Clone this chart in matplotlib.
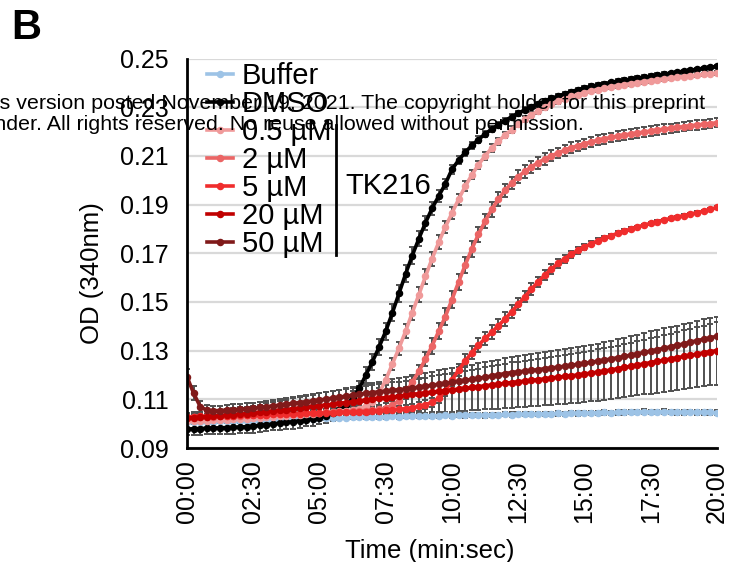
import numpy as np
import matplotlib
matplotlib.use("Agg")
from matplotlib import pyplot as plt

plt.rcParams["font.family"] = ["Liberation Sans", "DejaVu Sans"]

# sampling every 15 s, 0-20 min
time_min = np.arange(81) * 0.25

tick_pos = [0, 2.5, 5, 7.5, 10, 12.5, 15, 17.5, 20]
tick_labels = ["00:00", "02:30", "05:00", "07:30", "10:00", "12:30", "15:00", "17:30", "20:00"]

labels = ["Buffer", "DMSO", "0.5 µM", "2 µM", "5 µM", "20 µM", "50 µM"]
colors = ["#9DC3E6", "#000000", "#F09A9A", "#EB6565", "#F02D2D", "#C00000", "#801A1A"]

buffer = [
    0.1005, 0.1006, 0.1007, 0.1008, 0.1008, 0.1009, 0.1010, 0.1011, 0.1011, 0.1012,
    0.1013, 0.1014, 0.1015, 0.1016, 0.1016, 0.1017, 0.1018, 0.1019, 0.1020, 0.1021,
    0.1022, 0.1023, 0.1024, 0.1024, 0.1025, 0.1026, 0.1026, 0.1027, 0.1028, 0.1027,
    0.1029, 0.1030, 0.1029, 0.1031, 0.1030, 0.1032, 0.1031, 0.1033, 0.1032, 0.1034,
    0.1033, 0.1035, 0.1034, 0.1036, 0.1035, 0.1034, 0.1037, 0.1036, 0.1038, 0.1037,
    0.1039, 0.1038, 0.1040, 0.1039, 0.1041, 0.1040, 0.1042, 0.1041, 0.1043, 0.1042,
    0.1043, 0.1045, 0.1044, 0.1046, 0.1045, 0.1047, 0.1046, 0.1048, 0.1047, 0.1049,
    0.1048, 0.1047, 0.1049, 0.1048, 0.1046, 0.1047, 0.1048, 0.1046, 0.1047, 0.1046,
    0.1045]
dmso = [
    0.0978, 0.0979, 0.0980, 0.0981, 0.0982, 0.0983, 0.0984, 0.0985, 0.0986, 0.0988,
    0.0990, 0.0993, 0.0996, 0.0999, 0.1002, 0.1005, 0.1008, 0.1012, 0.1016, 0.1020,
    0.1025, 0.1032, 0.1042, 0.1056, 0.1076, 0.1105, 0.1145, 0.1200, 0.1255, 0.1315,
    0.1380, 0.1455, 0.1535, 0.1615, 0.1690, 0.1760, 0.1825, 0.1885, 0.1935, 0.1985,
    0.2045, 0.2082, 0.2115, 0.2143, 0.2167, 0.2190, 0.2210, 0.2228, 0.2245, 0.2260,
    0.2275, 0.2289, 0.2302, 0.2314, 0.2325, 0.2336, 0.2346, 0.2355, 0.2364, 0.2372,
    0.2380, 0.2386, 0.2392, 0.2397, 0.2402, 0.2407, 0.2411, 0.2416, 0.2420, 0.2424,
    0.2428, 0.2432, 0.2436, 0.2440, 0.2444, 0.2448, 0.2452, 0.2456, 0.2460, 0.2464,
    0.2468]
tk_05 = [
    0.1010, 0.1011, 0.1012, 0.1013, 0.1014, 0.1016, 0.1017, 0.1018, 0.1020, 0.1021,
    0.1023, 0.1025, 0.1026, 0.1028, 0.1030, 0.1032, 0.1034, 0.1036, 0.1038, 0.1041,
    0.1044, 0.1046, 0.1048, 0.1051, 0.1054, 0.1057, 0.1062, 0.1072, 0.1090, 0.1125,
    0.1180, 0.1245, 0.1310, 0.1380, 0.1455, 0.1530, 0.1605, 0.1678, 0.1745, 0.1808,
    0.1865, 0.1922, 0.1975, 0.2022, 0.2064, 0.2100, 0.2132, 0.2160, 0.2185, 0.2208,
    0.2230, 0.2250, 0.2268, 0.2285, 0.2300, 0.2313, 0.2325, 0.2335, 0.2344, 0.2352,
    0.2359, 0.2366, 0.2372, 0.2378, 0.2383, 0.2388, 0.2392, 0.2396, 0.2400, 0.2404,
    0.2408, 0.2412, 0.2415, 0.2419, 0.2422, 0.2426, 0.2429, 0.2432, 0.2435, 0.2438,
    0.2441]
tk_2 = [
    0.1025, 0.1026, 0.1027, 0.1028, 0.1029, 0.1030, 0.1031, 0.1032, 0.1033, 0.1034,
    0.1035, 0.1036, 0.1037, 0.1038, 0.1039, 0.1040, 0.1041, 0.1042, 0.1043, 0.1044,
    0.1045, 0.1046, 0.1047, 0.1048, 0.1050, 0.1051, 0.1052, 0.1054, 0.1056, 0.1059,
    0.1064, 0.1075, 0.1095, 0.1125, 0.1170, 0.1215, 0.1265, 0.1320, 0.1380, 0.1440,
    0.1510, 0.1582, 0.1652, 0.1718, 0.1778, 0.1832, 0.1880, 0.1922, 0.1958, 0.1988,
    0.2015, 0.2036, 0.2055, 0.2072, 0.2087, 0.2100, 0.2112, 0.2123, 0.2133, 0.2142,
    0.2150, 0.2157, 0.2164, 0.2170, 0.2176, 0.2181, 0.2186, 0.2190, 0.2194, 0.2198,
    0.2202, 0.2206, 0.2210, 0.2213, 0.2217, 0.2220, 0.2224, 0.2227, 0.2230, 0.2233,
    0.2236]
tk_5 = [
    0.1028, 0.1029, 0.1030, 0.1030, 0.1031, 0.1032, 0.1033, 0.1033, 0.1034, 0.1035,
    0.1036, 0.1036, 0.1037, 0.1038, 0.1039, 0.1039, 0.1040, 0.1041, 0.1042, 0.1042,
    0.1043, 0.1044, 0.1045, 0.1046, 0.1047, 0.1048, 0.1049, 0.1050, 0.1052, 0.1053,
    0.1055, 0.1057, 0.1059, 0.1062, 0.1066, 0.1071, 0.1078, 0.1088, 0.1105, 0.1135,
    0.1180, 0.1220, 0.1258, 0.1292, 0.1322, 0.1350, 0.1376, 0.1402, 0.1430, 0.1460,
    0.1490, 0.1522, 0.1553, 0.1582, 0.1610, 0.1635, 0.1658, 0.1678, 0.1696, 0.1712,
    0.1726, 0.1739, 0.1751, 0.1762, 0.1772, 0.1782, 0.1791, 0.1800, 0.1808, 0.1816,
    0.1823, 0.1830, 0.1837, 0.1843, 0.1849, 0.1855, 0.1861, 0.1867, 0.1873, 0.1880,
    0.1888]
tk_20 = [
    0.1023, 0.1025, 0.1027, 0.1029, 0.1031, 0.1033, 0.1035, 0.1037, 0.1039, 0.1041,
    0.1043, 0.1046, 0.1049, 0.1052, 0.1055, 0.1058, 0.1062, 0.1065, 0.1068, 0.1071,
    0.1074, 0.1077, 0.1080, 0.1084, 0.1087, 0.1090, 0.1094, 0.1097, 0.1100, 0.1104,
    0.1107, 0.1110, 0.1113, 0.1116, 0.1120, 0.1123, 0.1127, 0.1130, 0.1133, 0.1136,
    0.1139, 0.1142, 0.1146, 0.1149, 0.1152, 0.1156, 0.1159, 0.1162, 0.1166, 0.1169,
    0.1172, 0.1175, 0.1178, 0.1181, 0.1184, 0.1188, 0.1191, 0.1194, 0.1197, 0.1200,
    0.1204, 0.1208, 0.1212, 0.1216, 0.1221, 0.1226, 0.1231, 0.1236, 0.1241, 0.1246,
    0.1251, 0.1256, 0.1261, 0.1266, 0.1271, 0.1276, 0.1281, 0.1286, 0.1291, 0.1296,
    0.1300]
tk_50 = [
    0.1193, 0.1125, 0.1070, 0.1055, 0.1053, 0.1054, 0.1056, 0.1058, 0.1060, 0.1062,
    0.1064, 0.1067, 0.1070, 0.1073, 0.1076, 0.1080, 0.1083, 0.1087, 0.1090, 0.1094,
    0.1097, 0.1101, 0.1105, 0.1109, 0.1113, 0.1117, 0.1121, 0.1125, 0.1128, 0.1131,
    0.1134, 0.1137, 0.1140, 0.1143, 0.1147, 0.1150, 0.1154, 0.1158, 0.1162, 0.1166,
    0.1170, 0.1174, 0.1178, 0.1182, 0.1186, 0.1191, 0.1196, 0.1201, 0.1206, 0.1210,
    0.1213, 0.1216, 0.1219, 0.1222, 0.1226, 0.1229, 0.1232, 0.1236, 0.1240, 0.1244,
    0.1248, 0.1252, 0.1257, 0.1261, 0.1266, 0.1271, 0.1276, 0.1282, 0.1287, 0.1293,
    0.1298, 0.1304, 0.1310, 0.1316, 0.1322, 0.1328, 0.1335, 0.1341, 0.1347, 0.1353,
    0.1359]

# standard deviations
buffer_sd = [
    0.0007, 0.0007, 0.0006, 0.0007, 0.0006, 0.0007, 0.0006, 0.0007, 0.0007, 0.0006,
    0.0007, 0.0006, 0.0007, 0.0007, 0.0006, 0.0007, 0.0007, 0.0006, 0.0007, 0.0007,
    0.0007, 0.0007, 0.0008, 0.0007, 0.0007, 0.0008, 0.0007, 0.0008, 0.0007, 0.0008,
    0.0008, 0.0007, 0.0008, 0.0008, 0.0007, 0.0008, 0.0008, 0.0008, 0.0007, 0.0008,
    0.0008, 0.0008, 0.0009, 0.0008, 0.0008, 0.0009, 0.0008, 0.0009, 0.0008, 0.0009,
    0.0009, 0.0008, 0.0009, 0.0009, 0.0008, 0.0009, 0.0009, 0.0008, 0.0009, 0.0009,
    0.0009, 0.0009, 0.0010, 0.0009, 0.0009, 0.0010, 0.0009, 0.0010, 0.0009, 0.0010,
    0.0010, 0.0009, 0.0010, 0.0010, 0.0009, 0.0010, 0.0010, 0.0009, 0.0010, 0.0010,
    0.0010]
dmso_sd = [
    0.0025, 0.0025, 0.0026, 0.0025, 0.0026, 0.0026, 0.0025, 0.0026, 0.0026, 0.0027,
    0.0027, 0.0026, 0.0027, 0.0027, 0.0028, 0.0027, 0.0028, 0.0028, 0.0027, 0.0028,
    0.0028, 0.0028, 0.0029, 0.0029, 0.0030, 0.0030, 0.0031, 0.0032, 0.0033, 0.0034,
    0.0035, 0.0035, 0.0036, 0.0035, 0.0034, 0.0032, 0.0030, 0.0027, 0.0024, 0.0021,
    0.0019, 0.0017, 0.0015, 0.0014, 0.0013, 0.0012, 0.0012, 0.0011, 0.0011, 0.0010,
    0.0010, 0.0010, 0.0009, 0.0009, 0.0009, 0.0009, 0.0008, 0.0008, 0.0008, 0.0008,
    0.0008, 0.0008, 0.0007, 0.0007, 0.0007, 0.0007, 0.0007, 0.0007, 0.0007, 0.0007,
    0.0007, 0.0007, 0.0007, 0.0006, 0.0006, 0.0006, 0.0006, 0.0006, 0.0006, 0.0006,
    0.0006]
tk_05_sd = [
    0.0010, 0.0010, 0.0011, 0.0010, 0.0011, 0.0011, 0.0010, 0.0011, 0.0011, 0.0012,
    0.0012, 0.0011, 0.0012, 0.0012, 0.0013, 0.0012, 0.0013, 0.0013, 0.0012, 0.0013,
    0.0013, 0.0013, 0.0014, 0.0014, 0.0014, 0.0015, 0.0015, 0.0016, 0.0018, 0.0020,
    0.0022, 0.0024, 0.0026, 0.0028, 0.0029, 0.0030, 0.0030, 0.0029, 0.0028, 0.0026,
    0.0024, 0.0022, 0.0020, 0.0018, 0.0017, 0.0016, 0.0015, 0.0014, 0.0013, 0.0013,
    0.0012, 0.0012, 0.0011, 0.0011, 0.0011, 0.0010, 0.0010, 0.0010, 0.0010, 0.0009,
    0.0009, 0.0009, 0.0009, 0.0009, 0.0008, 0.0008, 0.0008, 0.0008, 0.0008, 0.0008,
    0.0008, 0.0008, 0.0007, 0.0007, 0.0007, 0.0007, 0.0007, 0.0007, 0.0007, 0.0007,
    0.0007]
tk_2_sd = [
    0.0012, 0.0012, 0.0013, 0.0012, 0.0013, 0.0013, 0.0012, 0.0013, 0.0013, 0.0014,
    0.0014, 0.0013, 0.0014, 0.0014, 0.0015, 0.0014, 0.0015, 0.0015, 0.0014, 0.0015,
    0.0015, 0.0015, 0.0016, 0.0016, 0.0016, 0.0017, 0.0017, 0.0017, 0.0018, 0.0018,
    0.0019, 0.0020, 0.0022, 0.0024, 0.0026, 0.0028, 0.0030, 0.0032, 0.0033, 0.0034,
    0.0034, 0.0034, 0.0033, 0.0032, 0.0031, 0.0030, 0.0029, 0.0028, 0.0027, 0.0026,
    0.0025, 0.0025, 0.0024, 0.0024, 0.0023, 0.0023, 0.0022, 0.0022, 0.0022, 0.0021,
    0.0021, 0.0021, 0.0021, 0.0020, 0.0020, 0.0020, 0.0020, 0.0020, 0.0020, 0.0019,
    0.0019, 0.0019, 0.0019, 0.0019, 0.0019, 0.0019, 0.0019, 0.0019, 0.0019, 0.0019,
    0.0019]
tk_5_sd = [
    0.0010, 0.0010, 0.0011, 0.0010, 0.0011, 0.0011, 0.0010, 0.0011, 0.0011, 0.0011,
    0.0011, 0.0011, 0.0012, 0.0011, 0.0012, 0.0012, 0.0011, 0.0012, 0.0012, 0.0012,
    0.0012, 0.0012, 0.0013, 0.0012, 0.0013, 0.0013, 0.0013, 0.0013, 0.0013, 0.0014,
    0.0014, 0.0014, 0.0015, 0.0015, 0.0016, 0.0017, 0.0018, 0.0019, 0.0021, 0.0023,
    0.0025, 0.0026, 0.0027, 0.0028, 0.0028, 0.0028, 0.0028, 0.0027, 0.0027, 0.0026,
    0.0025, 0.0024, 0.0023, 0.0022, 0.0020, 0.0019, 0.0017, 0.0016, 0.0014, 0.0013,
    0.0012, 0.0011, 0.0010, 0.0009, 0.0008, 0.0008, 0.0007, 0.0007, 0.0006, 0.0006,
    0.0006, 0.0006, 0.0005, 0.0005, 0.0005, 0.0005, 0.0005, 0.0005, 0.0005, 0.0005,
    0.0005]
tk_20_sd = [
    0.0020, 0.0021, 0.0022, 0.0023, 0.0024, 0.0025, 0.0026, 0.0027, 0.0028, 0.0029,
    0.0030, 0.0032, 0.0034, 0.0036, 0.0038, 0.0040, 0.0042, 0.0044, 0.0046, 0.0048,
    0.0050, 0.0052, 0.0054, 0.0056, 0.0058, 0.0060, 0.0062, 0.0064, 0.0066, 0.0068,
    0.0070, 0.0072, 0.0074, 0.0076, 0.0078, 0.0080, 0.0082, 0.0084, 0.0086, 0.0088,
    0.0090, 0.0091, 0.0093, 0.0094, 0.0096, 0.0097, 0.0099, 0.0100, 0.0102, 0.0103,
    0.0105, 0.0106, 0.0107, 0.0108, 0.0109, 0.0110, 0.0111, 0.0112, 0.0113, 0.0114,
    0.0115, 0.0116, 0.0117, 0.0118, 0.0120, 0.0121, 0.0122, 0.0124, 0.0125, 0.0126,
    0.0128, 0.0129, 0.0130, 0.0131, 0.0132, 0.0133, 0.0134, 0.0136, 0.0137, 0.0138,
    0.0140]
tk_50_sd = [
    0.0030, 0.0028, 0.0025, 0.0022, 0.0020, 0.0020, 0.0020, 0.0021, 0.0021, 0.0022,
    0.0022, 0.0023, 0.0023, 0.0024, 0.0024, 0.0025, 0.0025, 0.0026, 0.0026, 0.0027,
    0.0027, 0.0028, 0.0028, 0.0029, 0.0029, 0.0030, 0.0030, 0.0031, 0.0031, 0.0032,
    0.0032, 0.0033, 0.0033, 0.0034, 0.0034, 0.0035, 0.0035, 0.0036, 0.0036, 0.0037,
    0.0037, 0.0038, 0.0038, 0.0039, 0.0039, 0.0040, 0.0040, 0.0041, 0.0041, 0.0042,
    0.0042, 0.0043, 0.0043, 0.0044, 0.0044, 0.0045, 0.0045, 0.0046, 0.0046, 0.0047,
    0.0047, 0.0048, 0.0048, 0.0049, 0.0049, 0.0050, 0.0050, 0.0051, 0.0051, 0.0052,
    0.0052, 0.0053, 0.0053, 0.0054, 0.0054, 0.0055, 0.0055, 0.0056, 0.0056, 0.0057,
    0.0057]

series = [buffer, dmso, tk_05, tk_2, tk_5, tk_20, tk_50]
errors = [buffer_sd, dmso_sd, tk_05_sd, tk_2_sd, tk_5_sd, tk_20_sd, tk_50_sd]

fig = plt.figure(figsize=(7.31, 5.62), dpi=100)
ax = fig.add_axes([0.2558, 0.2028, 0.7250, 0.6931])

handles = []
for y, err, col, lab in zip(series, errors, colors, labels):
    ax.errorbar(time_min, y, yerr=err, fmt="none", ecolor="#505050",
                elinewidth=1.4, capsize=2.4, capthick=1.4, zorder=2)
    h, = ax.plot(time_min, y, color=col, lw=2.6, marker="o", markersize=4.4,
                 label=lab, zorder=3)
    handles.append(h)

ax.set_xlim(0, 20)
ax.set_ylim(0.09, 0.25)
ax.set_yticks(np.arange(0.09, 0.2501, 0.02))
ax.set_yticklabels([f"{v:.2f}" for v in np.arange(0.09, 0.2501, 0.02)])
ax.set_xticks(tick_pos)
ax.set_xticklabels(tick_labels, rotation=90)
ax.tick_params(axis="both", length=0, labelsize=18)
ax.tick_params(axis="y", pad=13)
ax.tick_params(axis="x", pad=9)
ax.grid(axis="y", color="#d9d9d9", lw=1.6, zorder=0)
ax.set_axisbelow(True)
for s in ["top", "right"]:
    ax.spines[s].set_visible(False)
for s in ["left", "bottom"]:
    ax.spines[s].set_linewidth(2)
    ax.spines[s].set_zorder(5)

ax.set_ylabel("OD (340nm)", fontsize=18.5, va="center")
ax.yaxis.set_label_coords(-0.179, 0.45)
ax.set_xlabel("Time (min:sec)", fontsize=18.5, va="center")
ax.xaxis.set_label_coords(0.4575, -0.264)

ax.legend(handles=handles, loc="upper left", bbox_to_anchor=(0.037, 0.99),
          frameon=False, fontsize=21, handlelength=0.9, handletextpad=0.3,
          labelspacing=0.0, borderpad=0, borderaxespad=0)

# TK216 bracket
ax.plot([0.281, 0.281], [0.4955, 0.829], transform=ax.transAxes, color="black",
        lw=2, clip_on=False, zorder=6)
ax.text(0.298, 0.673, "TK216", transform=ax.transAxes, fontsize=21,
        ha="left", va="center")

fig.text(0.036, 0.95, "B", fontsize=30, fontweight="bold", ha="center", va="center")

# preprint watermark, cut at the left edge
fig.text(0.9644, 0.8167, "this version posted November 19, 2021. The copyright holder for this preprint",
         fontsize=15.4, ha="right", va="center", zorder=10)
fig.text(0.799, 0.7776, "author/funder. All rights reserved. No reuse allowed without permission.",
         fontsize=15.4, ha="right", va="center", zorder=10)

plt.savefig("out.png", dpi=100)
